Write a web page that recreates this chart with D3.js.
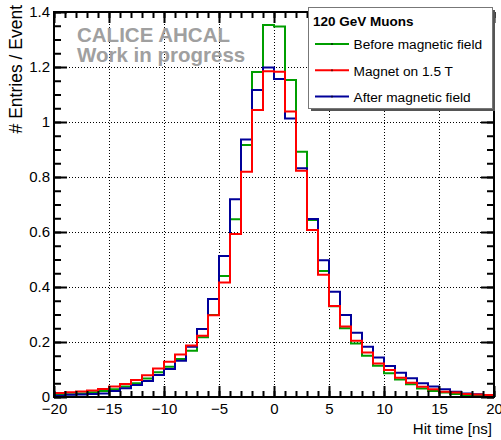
<!DOCTYPE html>
<html>
<head>
<meta charset="utf-8">
<script src="https://cdn.jsdelivr.net/npm/d3@7"></script>
<style>
  body { margin: 0; background: #fff; }
  svg { display: block; font-family: "Liberation Sans", Arial, Helvetica, sans-serif; }
</style>
</head>
<body>
<div id="container"></div>
<script>
/* DATA */
// bin lower edges, 1 ns wide, -20 .. 19
const binEdges = d3.range(-20, 21, 1);

const beforeField = [0.009, 0.010, 0.013, 0.017, 0.022, 0.028, 0.038, 0.050, 0.067, 0.090,
                     0.110, 0.138, 0.168, 0.217, 0.298, 0.440, 0.646, 0.916, 1.182, 1.353,
                     1.347, 1.153, 0.892, 0.644, 0.458, 0.330, 0.250, 0.195, 0.150, 0.114,
                     0.086, 0.064, 0.046, 0.031, 0.022, 0.016, 0.011, 0.006, 0.005, 0.004];

const magnetOn = [0.015, 0.017, 0.020, 0.024, 0.029, 0.038, 0.047, 0.062, 0.079, 0.104,
                  0.128, 0.155, 0.187, 0.223, 0.297, 0.416, 0.593, 0.819, 1.044, 1.185,
                  1.183, 1.038, 0.823, 0.607, 0.445, 0.331, 0.256, 0.205, 0.162, 0.122,
                  0.098, 0.070, 0.052, 0.037, 0.028, 0.019, 0.016, 0.011, 0.009, 0.007];

const afterField = [0.005, 0.008, 0.009, 0.011, 0.013, 0.022, 0.032, 0.044, 0.058, 0.080,
                    0.102, 0.132, 0.183, 0.247, 0.356, 0.513, 0.719, 0.936, 1.116, 1.198,
                    1.156, 1.013, 0.832, 0.647, 0.497, 0.383, 0.298, 0.234, 0.183, 0.144,
                    0.113, 0.088, 0.068, 0.050, 0.038, 0.028, 0.019, 0.013, 0.010, 0.007];

const xMajor = [-20, -15, -10, -5, 0, 5, 10, 15, 20];
const yMajor = [0, 0.2, 0.4, 0.6, 0.8, 1, 1.2, 1.4];

const legendTitle = "120 GeV Muons";
const series = [
  { name: "Before magnetic field", values: beforeField, color: "#009e00" },
  { name: "Magnet on 1.5 T", values: magnetOn, color: "#ff0000" },
  { name: "After magnetic field", values: afterField, color: "#000099" },
];
// draw order: green, blue, red on top
const drawOrder = [0, 2, 1];

/* CONSTANTS */
const width = 501,
      height = 440,
      frameLeft = 54, frameRight = 494,
      frameTop = 12, frameBottom = 397;

const xScale = d3.scaleLinear().domain([-20, 20]).range([frameLeft, frameRight]);
const yScale = d3.scaleLinear().domain([0, 1.4]).range([frameBottom, frameTop]);

const svg = d3.select("#container")
  .append("svg")
  .attr("width", width)
  .attr("height", height);

svg.append("rect").attr("width", width).attr("height", height).attr("fill", "#fff");

/* GRID */
const grid = svg.append("g")
  .attr("stroke", "#000")
  .attr("stroke-width", 1)
  .attr("stroke-dasharray", "1,2");

grid.selectAll(".gx")
  .data(xMajor.slice(1, -1))
  .join("line")
  .attr("x1", d => Math.round(xScale(d)) + 0.5)
  .attr("x2", d => Math.round(xScale(d)) + 0.5)
  .attr("y1", frameTop)
  .attr("y2", frameBottom);

grid.selectAll(".gy")
  .data(yMajor.slice(1, -1))
  .join("line")
  .attr("y1", d => Math.round(yScale(d)) + 0.5)
  .attr("y2", d => Math.round(yScale(d)) + 0.5)
  .attr("x1", frameLeft)
  .attr("x2", frameRight);

/* WATERMARK */
const mark = svg.append("text")
  .attr("font-size", 20.5)
  .attr("font-weight", "bold")
  .attr("fill", "#a0a0a0");
mark.append("tspan").attr("x", 77).attr("y", 41.5).text("CALICE AHCAL");
mark.append("tspan").attr("x", 77).attr("y", 61.5).text("Work in progress");

/* HISTOGRAMS */
const line = d3.line().x(d => xScale(d[0])).y(d => yScale(d[1]));

const stepPoints = values => {
  const pts = [[binEdges[0], 0]];
  values.forEach((v, i) => {
    pts.push([binEdges[i], v]);
    pts.push([binEdges[i + 1], v]);
  });
  pts.push([binEdges[binEdges.length - 1], 0]);
  return pts;
};

svg.append("g")
  .selectAll("path")
  .data(drawOrder.map(i => series[i]))
  .join("path")
  .attr("d", d => line(stepPoints(d.values)))
  .attr("fill", "none")
  .attr("stroke", d => d.color)
  .attr("stroke-width", 2)
  .attr("stroke-linejoin", "miter");

/* AXES */
const noLabel = () => "";
const fmt = d => d3.format("~g")(d);
const minorX = d3.range(-20, 21, 1);
const minorY = d3.range(0, 1.4001, 0.05);

const axes = svg.append("g").attr("class", "axes");

const drawAxis = (axis, transform) => {
  const g = axes.append("g")
    .attr("transform", transform)
    .call(axis);
  g.select(".domain").remove();
  g.selectAll(".tick line").attr("stroke", "#000").attr("stroke-width", 2);
  g.selectAll(".tick text")
    .attr("fill", "#000")
    .attr("font-size", 15)
    .attr("font-family", "'Liberation Sans', Arial, Helvetica, sans-serif");
  return g;
};

// bottom
drawAxis(d3.axisBottom(xScale).tickValues(minorX).tickSize(-6).tickFormat(noLabel), `translate(0,${frameBottom})`);
drawAxis(d3.axisBottom(xScale).tickValues(xMajor).tickSize(-11).tickPadding(6).tickFormat(fmt), `translate(0,${frameBottom})`);
// top
drawAxis(d3.axisTop(xScale).tickValues(minorX).tickSize(-6).tickFormat(noLabel), `translate(0,${frameTop})`);
drawAxis(d3.axisTop(xScale).tickValues(xMajor).tickSize(-11).tickFormat(noLabel), `translate(0,${frameTop})`);
// left
drawAxis(d3.axisLeft(yScale).tickValues(minorY).tickSize(-7).tickFormat(noLabel), `translate(${frameLeft},0)`);
drawAxis(d3.axisLeft(yScale).tickValues(yMajor).tickSize(-13).tickPadding(4).tickFormat(fmt), `translate(${frameLeft},0)`);
// right
drawAxis(d3.axisRight(yScale).tickValues(minorY).tickSize(-7).tickFormat(noLabel), `translate(${frameRight},0)`);
drawAxis(d3.axisRight(yScale).tickValues(yMajor).tickSize(-13).tickFormat(noLabel), `translate(${frameRight},0)`);

// frame
axes.append("rect")
  .attr("x", frameLeft)
  .attr("y", frameTop)
  .attr("width", frameRight - frameLeft)
  .attr("height", frameBottom - frameTop)
  .attr("fill", "none")
  .attr("stroke", "#000")
  .attr("stroke-width", 2);

/* TITLES */
svg.append("text")
  .attr("x", 492)
  .attr("y", 434)
  .attr("text-anchor", "end")
  .attr("font-size", 15)
  .text("Hit time [ns]");

svg.append("text")
  .attr("transform", "translate(22,5) rotate(-90)")
  .attr("text-anchor", "end")
  .attr("font-size", 17.5)
  .text("# Entries / Event");

/* LEGEND */
const lg = { x: 308, y: 7, w: 184, h: 101 };
const legend = svg.append("g");

legend.append("rect")
  .attr("x", lg.x + 3)
  .attr("y", lg.y + 3)
  .attr("width", lg.w)
  .attr("height", lg.h)
  .attr("fill", "#555");

legend.append("rect")
  .attr("x", lg.x + 0.5)
  .attr("y", lg.y + 0.5)
  .attr("width", lg.w)
  .attr("height", lg.h)
  .attr("fill", "#fff")
  .attr("stroke", "#777")
  .attr("stroke-width", 1);

legend.append("text")
  .attr("x", 313)
  .attr("y", 26)
  .attr("font-size", 13.5)
  .attr("font-weight", "bold")
  .text(legendTitle);

const entry = legend.selectAll(".entry")
  .data(series)
  .join("g")
  .attr("class", "entry")
  .attr("transform", (d, i) => `translate(0,${44 + i * 26.3})`);

entry.append("line")
  .attr("x1", 315)
  .attr("x2", 349)
  .attr("stroke", d => d.color)
  .attr("stroke-width", 2);

entry.append("rect")
  .attr("x", 331.5)
  .attr("y", -1)
  .attr("width", 1)
  .attr("height", 2)
  .attr("fill", "#000");

entry.append("text")
  .attr("x", 353.5)
  .attr("y", 5.3)
  .attr("font-size", 13.7)
  .text(d => d.name);
</script>
</body>
</html>
